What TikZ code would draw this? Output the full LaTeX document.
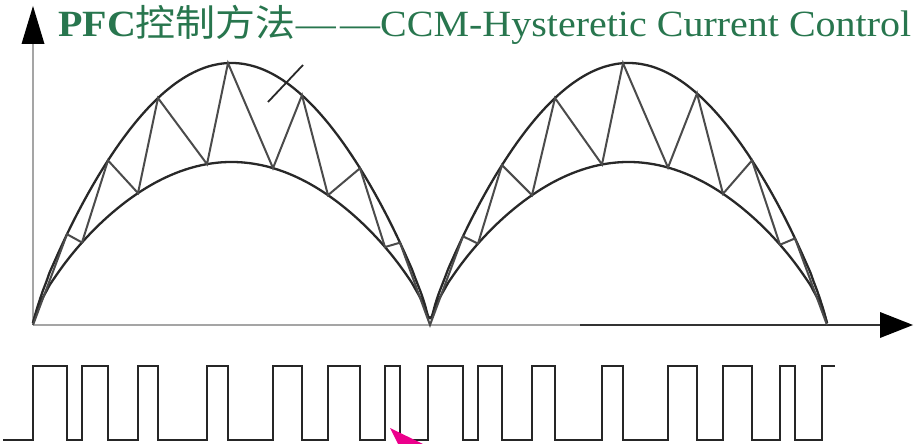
\documentclass[tikz,border=0pt]{standalone}
\usepackage{fontspec}
\setmainfont{Liberation Serif}
\newfontfamily\cjk{Noto Sans CJK SC}
\usetikzlibrary{arrows.meta}
\definecolor{titlegreen}{RGB}{40,118,78}
\definecolor{axisgray}{RGB}{165,165,165}
\definecolor{curvegray}{RGB}{40,40,40}
\definecolor{ziggray}{RGB}{75,75,75}
\begin{document}
\begin{tikzpicture}[x=1pt,y=-1pt,
  declare function={
    sv(\t)=max(abs(sin((\t-33)/397*180)),0.002);
    fo(\t)=325-262*pow(sv(\t),0.8);
    fi(\t)=325-163*pow(sv(\t),0.7);
  },
  outercurve/.style={draw=curvegray,line width=2.3pt},
  innercurve/.style={draw=curvegray,line width=2.3pt},
  zig/.style={draw=ziggray,line width=2pt,line join=miter},
  pulse/.style={draw=black!85,line width=2.6pt,line join=miter},
  axisline/.style={line width=2.5pt}]
\useasboundingbox (0,0) rectangle (914,444);
% title
\node[anchor=base west,inner sep=0pt,text=titlegreen,font=\fontsize{37}{37}\selectfont] (title) at (58,37)
  {\resizebox{853pt}{\height}{\textbf{PFC}{\cjk 控制方法}—\kern4pt—CCM-Hysteretic Current Control}};
% axes
\coordinate (org) at (33,325);
\coordinate (ytop) at (33,6);
\coordinate (xmid) at (580,325);
\coordinate (xend) at (913,325);
\draw[axisline,draw=axisgray] (org) -- (33,40);
\fill[black] (ytop) -- (44.5,44) -- (21.5,44) -- cycle;
\draw[axisline,draw=axisgray] (org) -- (xmid);
\draw[axisline,draw=black!80] (xmid) -- (882,325);
\fill[black] (xend) -- (880,312) -- (880,338) -- cycle;
% curves
\draw[outercurve] plot[domain=33:827,samples=240,smooth] (\x,{fo(\x)});
\draw[innercurve] plot[domain=33:827,samples=240,smooth] (\x,{fi(\x)});
% zigzag current
\draw[zig] (33,325)
  \foreach \a/\b in {67/82,108/138,158/207,228/273,302/328,360/385} {
    -- (\a,{fo(\a)}) -- (\b,{fi(\b)}) }
  -- (400,{fo(400)}) -- (430,325)
  \foreach \a/\b in {463/478,502/532,555/602,623/668,697/723,752/780} {
    -- (\a,{fo(\a)}) -- (\b,{fi(\b)}) }
  -- (795,{fo(795)}) -- (827,325);
% tick mark
\coordinate (tka) at (268,102);
\coordinate (tkb) at (303,65);
\draw[draw=curvegray,line width=1.8pt] (tka) -- (tkb);
% pulse train
\draw[pulse] (3,440)
  \foreach \r/\f in {33/67,82/108,138/158,207/228,273/302,328/360,385/400,428/463,478/502,532/555,602/623,668/697,723/752,780/795} {
    -- (\r,440) -- (\r,366) -- (\f,366) -- (\f,440) }
  -- (822,440) -- (822,366) -- (835,366);
% cursor
\fill[magenta] (390,428) -- (423,444) -- (398,444) -- cycle;
\end{tikzpicture}
\end{document}
